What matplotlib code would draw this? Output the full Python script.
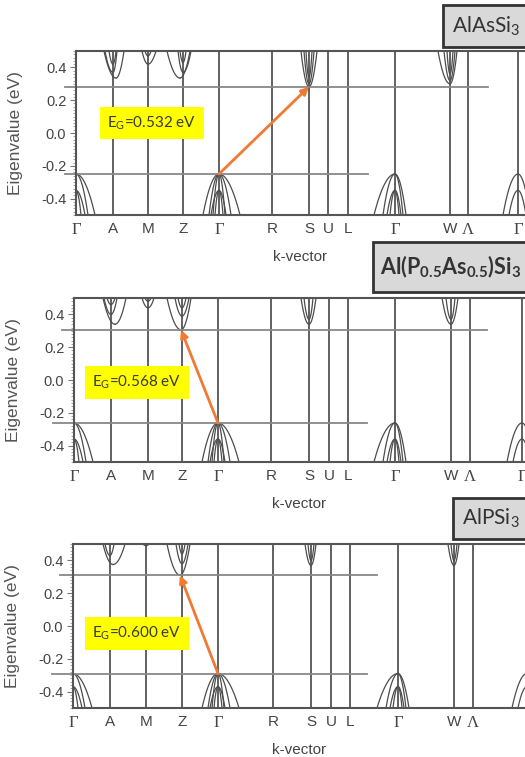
import numpy as np
import matplotlib
matplotlib.use('Agg')
import matplotlib.pyplot as plt
from matplotlib.patches import Rectangle

plt.rcParams['font.family'] = ['Liberation Sans', 'DejaVu Sans']
plt.rcParams['mathtext.default'] = 'regular'

# high-symmetry path
kpt_labels = ['Γ', 'A', 'M', 'Z', 'Γ', 'R', 'S', 'U', 'L', 'Γ', 'W', 'Λ', 'Γ']

# tick positions along the path for each compound
kpos_as = [0, 37, 72, 107, 143, 196, 233, 252, 272, 319, 374, 392, 442]
kpos_mix = [0, 37, 74, 108, 144, 197, 235, 255, 274, 321, 377, 396, 448]
kpos_p = [0, 37, 73, 109, 145, 200, 238, 258, 277, 325, 381, 400, 466]

# valence band maximum / lower valence top / gap (eV)
vbm_as, vb2_as, gap_as = -0.250, -0.350, 0.532
vbm_mix, vb2_mix, gap_mix = -0.262, -0.360, 0.568
vbm_p, vb2_p, gap_p = -0.290, -0.370, 0.600

# conduction valleys: (k, minimum, half width left, half width right)
cb_as = [(37, 0.37, 8, 4), (40, 0.335, 12, 8), (37, 0.42, 4, 3),
         (72, 0.42, 6, 8), (72, 0.47, 3, 3),
         (104, 0.335, 13, 10), (107, 0.37, 5, 8), (107, 0.43, 3, 3),
         (233, 0.282, 8, 8), (233, 0.30, 5, 5), (233, 0.34, 3, 3),
         (374, 0.30, 12, 7), (374, 0.32, 6, 5), (374, 0.36, 3, 3)]
cb_mix = [(41, 0.34, 12, 11), (37, 0.46, 4, 4), (37, 0.40, 7, 6),
          (74, 0.44, 6, 6), (74, 0.48, 3, 3),
          (107, 0.306, 14, 10), (108, 0.44, 4, 4), (108, 0.39, 7, 7),
          (235, 0.34, 8, 7), (235, 0.37, 5, 4),
          (377, 0.34, 9, 7), (377, 0.37, 5, 4)]
cb_p = [(40, 0.375, 10, 12), (37, 0.43, 5, 4),
        (73, 0.49, 3, 3),
        (107, 0.31, 13, 10), (109, 0.38, 6, 6), (109, 0.44, 3, 3),
        (238, 0.37, 6, 5), (238, 0.40, 3, 3),
        (381, 0.37, 6, 5), (381, 0.40, 3, 3)]

# valence bands at each Γ: (upper/lower top, half width left, half width right)
vb_shapes = [
    [(0, 0, 19), (0, 0, 12), (1, 0, 9), (1, 0, 5)],
    [(0, 16, 21), (0, 10, 12), (0, 6, 6), (1, 8, 7), (1, 4, 4)],
    [(0, 21, 11), (0, 12, 8), (1, 8, 6), (1, 5, 4)],
    [(0, 15, 12), (1, 9, 8)],
]

names = ['AlAsSi$_3$', 'Al(P$_{0.5}$As$_{0.5}$)Si$_3$', 'AlPSi$_3$']
eg_text = ['E$_G$=0.532 eV', 'E$_G$=0.568 eV', 'E$_G$=0.600 eV']

W, H = 525, 757
fig = plt.figure(figsize=(W / 100, H / 100), dpi=100)

panels = [
    dict(left=76, top=51, kpos=kpos_as, vbm=vbm_as, vb2=vb2_as, gap=gap_as, cb=cb_as,
         tip=233, cbm_x=(-11, 412), vbm_x=(-11, 292), lab=(76, 0.06),
         box=(443, 5, 47, 452, 15, False), kvec=224),
    dict(left=74, top=298, kpos=kpos_mix, vbm=vbm_mix, vb2=vb2_mix, gap=gap_mix, cb=cb_mix,
         tip=107, cbm_x=(-12, 413), vbm_x=(-21, 293), lab=(63, -0.015),
         box=(373, 242, 292, 380, 15.5, True), kvec=225),
    dict(left=73, top=544, kpos=kpos_p, vbm=vbm_p, vb2=vb2_p, gap=gap_p, cb=cb_p,
         tip=107, cbm_x=(-13, 304), vbm_x=(-21, 294), lab=(64, -0.047),
         box=(453, 498, 539, 462, 15, False), kvec=226),
]

band_c = '#4d4d4d'
for i, p in enumerate(panels):
    ax = fig.add_axes([p['left'] / W, 1 - (p['top'] + 164) / H, 460 / W, 164 / H])
    kpos = p['kpos']

    # symmetry lines
    for k in kpos[1:]:
        ax.axvline(k, color='#555555', lw=1.3)

    # conduction bands
    for kc, emin, wl, wr in p['cb']:
        left = np.linspace(-wl * 1.3, 0, 40)
        right = np.linspace(0, wr * 1.3, 40)
        ax.plot(kc + left, emin + (0.5 - emin) * (left / wl) ** 2, color=band_c, lw=0.9)
        ax.plot(kc + right, emin + (0.5 - emin) * (right / wr) ** 2, color=band_c, lw=0.9)

    # valence bands at the Γ points
    gammas = [kpos[0], kpos[4], kpos[9], kpos[12] - 12 if i == 2 else kpos[12]]
    for g, shapes in zip(gammas, vb_shapes):
        for lvl, wl, wr in shapes:
            top = p['vbm'] if lvl == 0 else p['vb2']
            for w, sgn in ((wl, -1), (wr, 1)):
                if w == 0:
                    continue
                dk = np.linspace(0, w * 1.2, 40)
                ax.plot(g + sgn * dk, top - (top + 0.5) * (dk / w) ** 2, color=band_c, lw=0.9)

    # band edge guides
    cbm = p['vbm'] + p['gap']
    ax.plot(p['cbm_x'], [cbm, cbm], color='#888888', lw=1.3, clip_on=False)
    ax.plot(p['vbm_x'], [p['vbm'], p['vbm']], color='#888888', lw=1.3, clip_on=False)

    # gap arrow from VBM at Γ to CBM
    ax.annotate('', xy=(p['tip'], cbm), xytext=(kpos[4], p['vbm']),
                arrowprops=dict(arrowstyle='-|>', color='#f07a32', lw=2, mutation_scale=11,
                                shrinkA=0, shrinkB=0))
    ax.text(p['lab'][0], p['lab'][1], eg_text[i], ha='center', va='center', fontsize=11,
            family='Lato', color='#3a3a3a',
            bbox=dict(boxstyle='square,pad=0.5', fc='#ffff00', ec='none'))

    # axes styling
    for s in ['top', 'left', 'bottom']:
        ax.spines[s].set_color('#555555')
        ax.spines[s].set_linewidth(1.5)
    ax.spines['right'].set_visible(False)
    ax.set_xticks(kpos)
    ax.set_xticklabels(kpt_labels, fontsize=11, color='#444444')
    for t in ax.get_xticklabels():
        if t.get_text() in 'ΓΛ':
            t.set_family('Liberation Serif')
            t.set_fontsize(12)
    ax.tick_params(axis='x', length=0, pad=5)
    ax.set_xlim(0, 460)
    ax.set_ylim(-0.5, 0.5)
    ax.set_yticks([-0.4, -0.2, 0.0, 0.2, 0.4])
    ax.set_yticklabels(['-0.4', '-0.2', '0.0', '0.2', '0.4'], fontsize=10.5, color='#444444')
    ax.set_yticks(np.arange(-0.5, 0.5001, 0.02), minor=True)
    ax.tick_params(axis='y', which='major', length=4, color='#777777', pad=3)
    ax.tick_params(axis='y', which='minor', length=2, color='#999999', width=0.6)
    ax.set_ylabel('Eigenvalue (eV)', fontsize=12.5, color='#555555')
    ax.yaxis.set_label_coords(-53 / 460, 0.5)
    ax.text(p['kvec'], -42 / 164, 'k-vector', transform=ax.get_xaxis_transform(),
            ha='center', va='center', fontsize=11, color='#444444')

    # compound name box, running off the right edge
    bx, by0, by1, tx, fs, bold = p['box']
    fig.add_artist(Rectangle((bx / W, 1 - by1 / H), (W + 20 - bx) / W, (by1 - by0) / H,
                             transform=fig.transFigure, fc='#d9d9d9', ec='#333333', lw=2))
    fig.text(tx / W, 1 - (by0 + by1) / 2 / H, names[i], ha='left', va='center', fontsize=fs,
             family='Lato', fontweight='bold' if bold else 'normal', color='#333333')

fig.savefig('out.png', dpi=100)
